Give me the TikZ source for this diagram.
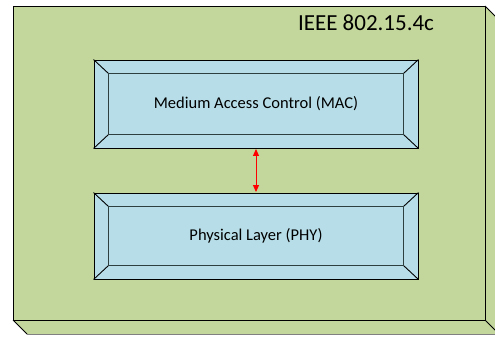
\documentclass[tikz,border=0pt]{standalone}
\usepackage{fontspec}
\setmainfont{Carlito}
\usetikzlibrary{arrows.meta}
\definecolor{boxgreen}{HTML}{C3D69B}
\definecolor{boxblue}{HTML}{B7DEE8}
\definecolor{bevelline}{HTML}{2E3F3F}
\tikzset{
  layerbox/.style={draw=black, fill=boxblue, line width=0.9pt, minimum width=324pt, inner sep=0pt, font=\fontsize{16.5}{19}\selectfont},
  bevelinner/.style={draw=bevelline, line width=1.3pt},
  bevelcorner/.style={draw=black, line width=0.9pt},
  link/.style={red, line width=1pt, {Triangle[length=7pt,width=6pt]}-{Triangle[length=7pt,width=6pt]}, shorten <=0.5pt, shorten >=0.5pt}
}
\begin{document}
\begin{tikzpicture}[x=1pt,y=-1pt]
\useasboundingbox (0,0) rectangle (495,337);
\begin{scope}
\clip (0,0) rectangle (495,337);
% depth faces of the enclosing block
\fill[boxgreen] (485,6) -- (499,20) -- (499,334) -- (27,334) -- (13,320) -- (485,320) -- cycle;
\draw[black, line width=0.9pt] (485,6) -- (499,20);
\draw[black, line width=0.9pt] (13,320) -- (27,334);
\draw[black, line width=0.9pt] (485,320) -- (499,334);
\draw[gray, line width=1pt] (27,334) -- (499,334);
% front face
\draw[black, fill=boxgreen, line width=0.9pt] (13,6) rectangle (485,320);
\end{scope}
\node[font=\fontsize{23}{26}\selectfont, anchor=center] (title) at (366,23) {IEEE 802.15.4c};
% protocol layers
\node[layerbox, minimum height=88pt] (mac) at (256,104) {Medium Access Control (MAC)};
\node[layerbox, minimum height=86pt] (phy) at (256,236) {Physical Layer (PHY)};
\foreach \n in {mac,phy}{
  \draw[bevelcorner] (\n.north west) -- ([shift={(15,14)}]\n.north west);
  \draw[bevelcorner] (\n.north east) -- ([shift={(-15,14)}]\n.north east);
  \draw[bevelcorner] (\n.south west) -- ([shift={(15,-14)}]\n.south west);
  \draw[bevelcorner] (\n.south east) -- ([shift={(-15,-14)}]\n.south east);
  \draw[bevelinner] ([shift={(15,14)}]\n.north west) rectangle ([shift={(-15,-14)}]\n.south east);
}
\draw[link] (mac.south) -- (phy.north);
\end{tikzpicture}
\end{document}
